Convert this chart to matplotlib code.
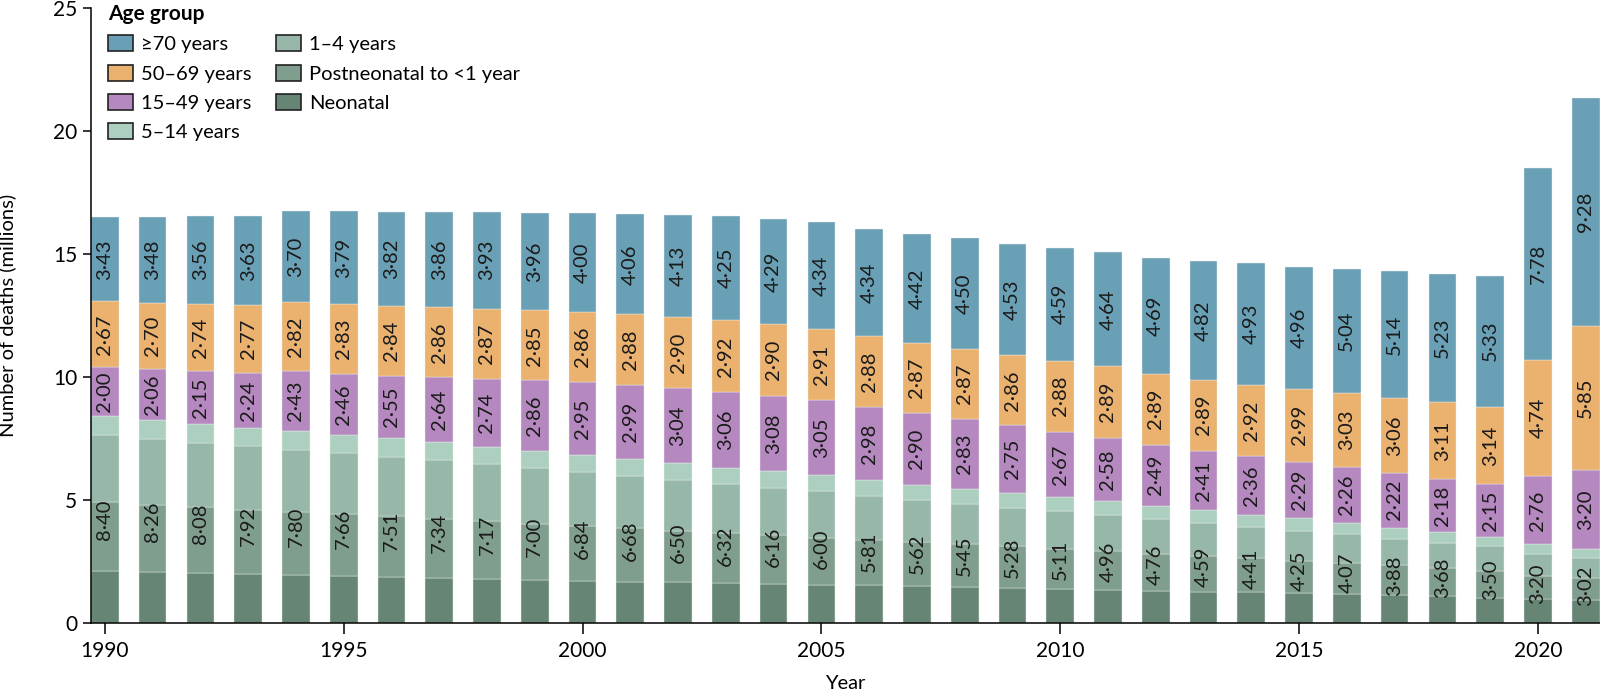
import numpy as np
import matplotlib
matplotlib.use("Agg")
import matplotlib.pyplot as plt

plt.rcParams['font.family'] = ['Lato', 'DejaVu Sans']

years = list(range(1990, 2022))

# deaths in millions
over70 = [3.43, 3.48, 3.56, 3.63, 3.70, 3.79, 3.82, 3.86, 3.93, 3.96, 4.00, 4.06, 4.13, 4.25, 4.29, 4.34,
          4.34, 4.42, 4.50, 4.53, 4.59, 4.64, 4.69, 4.82, 4.93, 4.96, 5.04, 5.14, 5.23, 5.33, 7.78, 9.28]
age50_69 = [2.67, 2.70, 2.74, 2.77, 2.82, 2.83, 2.84, 2.86, 2.87, 2.85, 2.86, 2.88, 2.90, 2.92, 2.90, 2.91,
            2.88, 2.87, 2.87, 2.86, 2.88, 2.89, 2.89, 2.89, 2.92, 2.99, 3.03, 3.06, 3.11, 3.14, 4.74, 5.85]
age15_49 = [2.00, 2.06, 2.15, 2.24, 2.43, 2.46, 2.55, 2.64, 2.74, 2.86, 2.95, 2.99, 3.04, 3.06, 3.08, 3.05,
            2.98, 2.90, 2.83, 2.75, 2.67, 2.58, 2.49, 2.41, 2.36, 2.29, 2.26, 2.22, 2.18, 2.15, 2.76, 3.20]
age5_14 = [0.76, 0.76, 0.76, 0.74, 0.77, 0.74, 0.75, 0.73, 0.72, 0.70, 0.69, 0.69, 0.68, 0.66, 0.66, 0.65,
           0.63, 0.61, 0.60, 0.59, 0.57, 0.55, 0.54, 0.52, 0.49, 0.49, 0.46, 0.46, 0.44, 0.39, 0.39, 0.37]
age1_4 = [2.73, 2.69, 2.62, 2.57, 2.52, 2.49, 2.42, 2.38, 2.31, 2.27, 2.19, 2.14, 2.06, 2.00, 1.93, 1.88,
          1.80, 1.73, 1.65, 1.58, 1.53, 1.50, 1.40, 1.34, 1.28, 1.22, 1.18, 1.08, 1.01, 0.99, 0.88, 0.83]
postneo = [2.80, 2.74, 2.67, 2.62, 2.56, 2.52, 2.48, 2.41, 2.36, 2.27, 2.26, 2.17, 2.11, 2.04, 1.98, 1.92,
           1.85, 1.79, 1.74, 1.69, 1.63, 1.56, 1.51, 1.45, 1.38, 1.32, 1.27, 1.22, 1.15, 1.09, 0.96, 0.90]
neonatal = [2.11, 2.07, 2.03, 1.99, 1.95, 1.91, 1.86, 1.82, 1.78, 1.76, 1.70, 1.68, 1.65, 1.62, 1.59, 1.55,
            1.53, 1.49, 1.46, 1.42, 1.38, 1.35, 1.31, 1.28, 1.26, 1.22, 1.16, 1.12, 1.08, 1.03, 0.97, 0.92]
# printed totals for under 15
under15 = [8.40, 8.26, 8.08, 7.92, 7.80, 7.66, 7.51, 7.34, 7.17, 7.00, 6.84, 6.68, 6.50, 6.32, 6.16, 6.00,
           5.81, 5.62, 5.45, 5.28, 5.11, 4.96, 4.76, 4.59, 4.41, 4.25, 4.07, 3.88, 3.68, 3.50, 3.20, 3.02]

# bottom to top
stack = [
    ("Neonatal", neonatal, "#668574"),
    ("Postneonatal to <1 year", postneo, "#7f9e8d"),
    ("1–4 years", age1_4, "#97b8a8"),
    ("5–14 years", age5_14, "#accfc0"),
    ("15–49 years", age15_49, "#b589c0"),
    ("50–69 years", age50_69, "#ebb16e"),
    ("≥70 years", over70, "#6aa0b6"),
]


def fmt(v):
    return f"{v:.2f}".replace(".", "·")


fig = plt.figure(figsize=(16, 6.94), dpi=100)
ax = fig.add_axes([91 / 1600, 71 / 694, 1509 / 1600, 615 / 694])

x = np.array(years)
bottom = np.zeros(len(years))
handles = {}
for name, vals, col in stack:
    vals = np.array(vals)
    b = ax.bar(x, vals, width=0.58, bottom=bottom, color=col, edgecolor="#e9efeb", linewidth=0.3, label=name)
    handles[name] = b
    if name in ("15–49 years", "50–69 years", "≥70 years"):
        for xi, bi, vi in zip(x, bottom, vals):
            ax.text(xi, bi + vi / 2, fmt(vi), rotation=90, ha="center", va="center",
                    fontsize=14.5, color="#1a1a1a")
    bottom = bottom + vals

for xi, v in zip(x, under15):
    ax.text(xi, v / 2, fmt(v), rotation=90, ha="center", va="center", fontsize=14.5, color="#1a1a1a")

ax.set_xlim(1989.71, 2021.3)
ax.set_ylim(0, 25)
ax.set_xticks(range(1990, 2021, 5))
ax.set_yticks(range(0, 26, 5))
ax.tick_params(axis="x", length=8, width=1.1, labelsize=15, pad=5)
ax.tick_params(axis="y", length=6, width=1.1, labelsize=15, pad=4)
for s in ("top", "right"):
    ax.spines[s].set_visible(False)
for s in ("left", "bottom"):
    ax.spines[s].set_linewidth(1.1)

ax.set_ylabel("Number of deaths (millions)", fontsize=14.5)
ax.yaxis.set_label_coords(-0.0495, 0.5)
ax.set_xlabel("Year", fontsize=14.5, va="baseline")
ax.xaxis.set_label_coords(0.5, -0.108)

order = ["≥70 years", "50–69 years", "15–49 years", "5–14 years", "1–4 years",
         "Postneonatal to <1 year", "Neonatal"]
leg = fig.legend([handles[n] for n in order], order, loc="upper left",
                 bbox_to_anchor=(108 / 1600, 1 - 4 / 694), ncol=2, frameon=False,
                 fontsize=14.5, title="Age group", title_fontproperties={"weight": "bold", "size": 15},
                 alignment="left", borderpad=0, borderaxespad=0, handlelength=1.25, handleheight=0.85,
                 handletextpad=0.4, labelspacing=0.56, columnspacing=1.2)
for p in leg.get_patches():
    p.set_edgecolor("#222222")
    p.set_linewidth(1.2)

fig.savefig("out.png", dpi=100)
